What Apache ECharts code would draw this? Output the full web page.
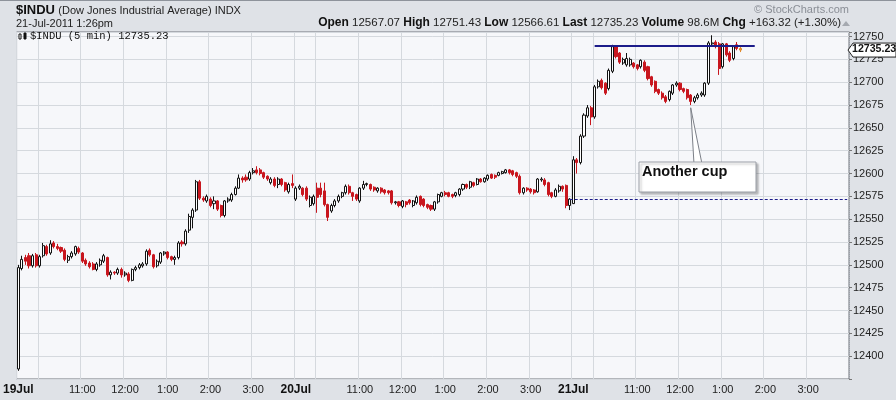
<!DOCTYPE html>
<html>
<head>
<meta charset="utf-8">
<script src="https://cdn.jsdelivr.net/npm/echarts@6/dist/echarts.min.js"></script>
<style>
  html, body { margin: 0; padding: 0; background: #dfe2e7; }
  #chart { width: 896px; height: 400px; }
</style>
</head>
<body>
<div id="chart"></div>
<script>
// sessions and axis labels
const days = ['19Jul', '20Jul', '21Jul']
const barsPerDay = 78 // 9:30 - 4:00 in 5 min bars
const gridBars = [0, 6, 18, 30, 42, 54, 66] // 9:30, 10:00, 11:00 ... 3:00
const hourBars = [18, 30, 42, 54, 66]
const hourLabels = ['11:00', '12:00', '1:00', '2:00', '3:00']
const yTicks = [12400, 12425, 12450, 12475, 12500, 12525, 12550, 12575, 12600, 12625, 12650, 12675, 12700, 12725, 12750]

// [open, close, low, high] per 5 min bar
const jul19 = [
  [12386, 12497, 12384, 12500], [12496, 12506, 12494, 12510], [12508, 12504, 12500, 12511], [12510, 12499, 12496, 12513],
  [12499, 12510, 12497, 12512], [12511, 12499, 12497, 12513], [12499, 12509, 12497, 12511], [12510, 12521, 12508, 12524],
  [12520, 12512, 12510, 12522], [12513, 12523, 12511, 12527], [12524, 12520, 12518, 12526], [12520, 12518, 12516, 12523],
  [12519, 12515, 12513, 12520], [12516, 12506, 12504, 12518], [12505, 12509, 12502, 12511], [12509, 12513, 12507, 12515],
  [12512, 12520, 12510, 12521], [12518, 12514, 12512, 12520], [12513, 12504, 12502, 12514], [12505, 12501, 12499, 12507],
  [12502, 12498, 12496, 12504], [12501, 12495, 12494, 12503], [12495, 12501, 12493, 12503], [12500, 12505, 12498, 12507],
  [12504, 12510, 12502, 12512], [12508, 12489, 12487, 12509], [12489, 12492, 12484, 12494], [12492, 12491, 12489, 12493],
  [12491, 12495, 12489, 12497], [12495, 12489, 12486, 12497], [12489, 12491, 12487, 12493], [12490, 12483, 12481, 12492],
  [12483, 12495, 12482, 12496], [12495, 12497, 12493, 12499], [12497, 12500, 12495, 12502], [12499, 12501, 12497, 12503],
  [12501, 12515, 12499, 12517], [12516, 12511, 12509, 12518], [12511, 12498, 12496, 12512], [12499, 12504, 12497, 12506],
  [12503, 12513, 12501, 12514], [12512, 12514, 12510, 12515], [12514, 12508, 12506, 12515], [12509, 12506, 12504, 12510],
  [12506, 12508, 12500, 12510], [12508, 12524, 12506, 12526], [12525, 12523, 12520, 12527], [12523, 12537, 12521, 12539],
  [12538, 12553, 12535, 12556], [12552, 12560, 12540, 12562], [12560, 12591, 12558, 12593], [12591, 12573, 12571, 12593],
  [12573, 12571, 12569, 12575], [12570, 12575, 12568, 12577], [12572, 12565, 12563, 12574], [12567, 12570, 12561, 12575],
  [12570, 12561, 12559, 12571], [12565, 12554, 12552, 12566], [12554, 12570, 12552, 12571], [12570, 12572, 12568, 12574],
  [12571, 12577, 12569, 12579], [12577, 12584, 12576, 12586], [12584, 12595, 12583, 12599], [12595, 12593, 12590, 12597],
  [12596, 12593, 12591, 12599], [12594, 12601, 12592, 12603], [12601, 12603, 12599, 12606], [12604, 12601, 12599, 12608],
  [12604, 12600, 12598, 12606], [12601, 12596, 12594, 12602], [12597, 12594, 12592, 12598], [12590, 12594, 12588, 12596],
  [12594, 12587, 12585, 12596], [12588, 12594, 12584, 12596], [12594, 12588, 12586, 12595], [12590, 12582, 12580, 12591],
  [12580, 12588, 12578, 12590], [12589, 12587, 12584, 12599]
]
const jul20 = [
  [12572, 12584, 12570, 12586], [12584, 12586, 12582, 12588], [12584, 12577, 12575, 12585], [12584, 12572, 12570, 12586],
  [12565, 12574, 12563, 12576], [12567, 12575, 12565, 12577], [12584, 12574, 12557, 12590], [12584, 12577, 12574, 12590],
  [12581, 12566, 12564, 12590], [12566, 12552, 12548, 12567], [12559, 12565, 12557, 12567], [12565, 12570, 12563, 12572],
  [12570, 12575, 12568, 12577], [12575, 12579, 12573, 12580], [12579, 12586, 12577, 12588], [12586, 12579, 12577, 12588],
  [12579, 12575, 12570, 12580], [12577, 12572, 12570, 12578], [12570, 12584, 12568, 12585], [12584, 12588, 12582, 12592],
  [12588, 12589, 12586, 12590], [12588, 12583, 12581, 12589], [12585, 12582, 12580, 12586], [12581, 12584, 12579, 12585],
  [12584, 12580, 12578, 12585], [12582, 12579, 12577, 12583], [12581, 12579, 12577, 12582], [12581, 12568, 12566, 12582],
  [12568, 12569, 12566, 12570], [12569, 12565, 12563, 12570], [12564, 12570, 12562, 12571], [12569, 12566, 12563, 12570],
  [12571, 12568, 12566, 12572], [12565, 12570, 12563, 12571], [12568, 12574, 12566, 12576], [12575, 12566, 12564, 12576],
  [12572, 12565, 12563, 12573], [12566, 12563, 12561, 12567], [12565, 12561, 12559, 12566], [12561, 12569, 12559, 12570],
  [12569, 12577, 12567, 12578], [12575, 12579, 12574, 12580], [12579, 12577, 12575, 12581], [12579, 12575, 12574, 12580],
  [12577, 12575, 12573, 12578], [12576, 12579, 12574, 12580], [12577, 12583, 12575, 12584], [12583, 12588, 12581, 12589],
  [12588, 12585, 12583, 12589], [12585, 12591, 12583, 12592], [12590, 12587, 12585, 12591], [12588, 12594, 12587, 12595],
  [12594, 12591, 12590, 12595], [12591, 12595, 12590, 12596], [12594, 12598, 12592, 12599], [12599, 12595, 12594, 12600],
  [12598, 12596, 12594, 12599], [12598, 12601, 12597, 12602], [12600, 12602, 12599, 12603], [12601, 12604, 12600, 12605],
  [12604, 12601, 12599, 12605], [12603, 12599, 12597, 12604], [12601, 12597, 12595, 12602], [12597, 12579, 12577, 12599],
  [12579, 12584, 12577, 12585], [12584, 12582, 12580, 12585], [12583, 12580, 12578, 12584], [12582, 12579, 12577, 12583],
  [12580, 12594, 12579, 12595], [12593, 12594, 12591, 12596], [12593, 12588, 12586, 12595], [12590, 12577, 12575, 12591],
  [12579, 12575, 12573, 12580], [12575, 12582, 12574, 12584], [12581, 12586, 12579, 12588], [12586, 12583, 12580, 12587],
  [12587, 12565, 12562, 12588], [12565, 12572, 12560, 12573]
]
const jul21 = [
  [12567.07, 12615, 12566.61, 12619], [12615, 12612, 12600, 12617], [12612, 12641, 12610, 12643], [12641, 12664, 12639, 12666],
  [12663, 12672, 12661, 12675], [12672, 12662, 12653, 12674], [12662, 12695, 12660, 12697], [12695, 12701, 12693, 12703],
  [12702, 12694, 12692, 12704], [12699, 12688, 12686, 12700], [12693, 12713, 12691, 12715], [12712, 12739, 12710, 12741],
  [12739, 12728, 12726, 12740], [12732, 12722, 12720, 12733], [12721, 12725, 12719, 12727], [12719, 12726, 12717, 12732],
  [12719, 12725, 12717, 12727], [12721, 12717, 12715, 12722], [12719, 12715, 12713, 12720], [12717, 12724, 12715, 12725],
  [12722, 12713, 12711, 12724], [12717, 12704, 12702, 12718], [12706, 12697, 12695, 12707], [12701, 12690, 12688, 12702],
  [12692, 12688, 12686, 12693], [12688, 12683, 12681, 12690], [12684, 12679, 12677, 12686], [12681, 12690, 12679, 12691],
  [12688, 12697, 12686, 12698], [12697, 12699, 12695, 12701], [12699, 12692, 12690, 12700], [12693, 12690, 12688, 12694],
  [12692, 12683, 12681, 12693], [12686, 12679, 12675, 12687], [12679, 12683, 12677, 12685], [12683, 12686, 12681, 12688],
  [12686, 12688, 12684, 12690], [12686, 12699, 12684, 12700], [12699, 12743, 12697, 12745], [12742, 12743, 12740, 12751.43],
  [12744, 12739, 12737, 12746], [12742, 12715, 12708, 12744], [12717, 12742, 12715, 12743], [12742, 12730, 12728, 12743],
  [12732, 12724, 12722, 12734], [12726, 12739, 12724, 12740], [12741, 12737, 12735, 12744], [12737, 12735.23, 12733, 12739]
]

const prevClose = 12571.91
const resistance = 12740
const lastPrice = 12735.23
const cupBottom = [189, 12672] // bar index, value the note points to

// time grid
const categories = []
days.forEach(d => {
  for (let k = 0; k < barsPerDay; k++) {
    const m = 570 + k * 5
    categories.push(d + ' ' + Math.floor(m / 60) + ':' + String(m % 60).padStart(2, '0'))
  }
})

const candles = jul19.concat(jul20, jul21).map((row, i, all) => {
  if (i === all.length - 1) {
    return { value: row, itemStyle: { color0: '#f2a640', borderColor0: '#e0892a' } }
  }
  return row
})

const chart = echarts.init(document.getElementById('chart'))

const option = {
  animation: false,
  backgroundColor: '#dfe2e7',
  textStyle: { fontFamily: 'Liberation Sans, Arial, sans-serif' },
  grid: {
    left: 16,
    right: 47,
    top: 32,
    bottom: 21,
    show: true,
    backgroundColor: '#f6f7fa',
    borderColor: '#70747c',
    borderWidth: 1
  },
  xAxis: {
    type: 'category',
    data: categories,
    boundaryGap: true,
    axisLine: { show: false },
    axisTick: { show: false },
    splitLine: {
      show: true,
      interval: (i) => gridBars.indexOf(i % barsPerDay) >= 0,
      lineStyle: { color: '#d5d9de', width: 1 }
    },
    axisLabel: {
      interval: (i) => i % barsPerDay === 0 || hourBars.indexOf(i % barsPerDay) >= 0,
      formatter: (value, i) => {
        const k = i % barsPerDay
        if (k === 0) return '{d|' + days[Math.floor(i / barsPerDay)] + '}'
        return hourLabels[hourBars.indexOf(k)] || ''
      },
      color: '#222',
      fontSize: 11,
      margin: 5,
      rich: { d: { fontWeight: 'bold', fontSize: 12, color: '#111' } }
    }
  },
  yAxis: {
    type: 'value',
    position: 'right',
    min: 12375,
    max: 12755,
    interval: 25,
    axisLine: { show: true, lineStyle: { color: '#9a9ea6', type: 'dotted' } },
    axisTick: { show: true, length: 3, lineStyle: { color: '#777' } },
    splitLine: { show: true, lineStyle: { color: '#d5d9de', width: 1 } },
    axisLabel: {
      color: '#222',
      fontSize: 11,
      margin: 4,
      formatter: (v) => (yTicks.indexOf(v) >= 0 ? String(v) : '')
    }
  },
  series: [
    {
      type: 'candlestick',
      data: candles,
      barWidth: '72%',
      itemStyle: {
        color: '#ffffff',
        color0: '#c8161e',
        borderColor: '#111111',
        borderColor0: '#c8161e',
        borderWidth: 1
      },
      markLine: {
        silent: true,
        symbol: ['none', 'none'],
        label: { show: false },
        data: [
          [
            { coord: [162, resistance], lineStyle: { color: '#1c1c8a', width: 2, type: 'solid' } },
            { coord: [207, resistance] }
          ],
          [
            { coord: [155, prevClose], lineStyle: { color: '#1c1c8a', width: 1, type: [3, 2] } },
            { coord: [233, prevClose] }
          ]
        ]
      }
    }
  ]
}

chart.setOption(option)

// annotations placed from the chart's own scales
const tip = chart.convertToPixel({ gridIndex: 0 }, cupBottom)
const lastY = chart.convertToPixel({ gridIndex: 0 }, [0, lastPrice])[1]

chart.setOption({
  graphic: [
    // header
    { type: 'rect', shape: { x: 0, y: 0, width: 896, height: 1 }, style: { fill: '#8e939b' }, silent: true },
    {
      type: 'text', left: 16, top: 4,
      style: {
        text: '{t|$INDU} {s|(Dow Jones Industrial Average) INDX}',
        rich: {
          t: { fontWeight: 'bold', fontSize: 13, fill: '#111', fontFamily: 'Liberation Sans, Arial' },
          s: { fontSize: 11, fill: '#222', fontFamily: 'Liberation Sans, Arial' }
        }
      }
    },
    {
      type: 'text', left: 16, top: 18,
      style: { text: '21-Jul-2011 1:26pm', fontSize: 11, fill: '#222', fontFamily: 'Liberation Sans, Arial' }
    },
    {
      type: 'text', right: 47, top: 4,
      style: { text: '\u00a9 StockCharts.com', fontSize: 11, fill: '#8a8e96', fontFamily: 'Liberation Sans, Arial' }
    },
    {
      type: 'text', right: 55, top: 17,
      style: {
        text: '{b|Open} 12567.07 {b|High} 12751.43 {b|Low} 12566.61 {b|Last} 12735.23 {b|Volume} 98.6M {b|Chg} +163.32 (+1.30%)',
        fontSize: 11.5,
        fill: '#222',
        fontFamily: 'Liberation Sans, Arial',
        rich: { b: { fontWeight: 'bold', fontSize: 12, fill: '#111' } }
      }
    },
    { type: 'polygon', shape: { points: [[842, 26], [850, 26], [846, 21]] }, style: { fill: '#a5a9b0' } },
    // legend inside plot
    { type: 'rect', shape: { x: 19, y: 34, width: 2, height: 5 }, style: { fill: '#fff', stroke: '#111', lineWidth: 1 } },
    { type: 'rect', shape: { x: 24, y: 33, width: 2, height: 6 }, style: { fill: '#111', stroke: '#111', lineWidth: 1 } },
    {
      type: 'text', left: 30, top: 31,
      style: { text: '$INDU (5 min) 12735.23', fontSize: 10.5, fill: '#111', fontFamily: 'Liberation Mono, DejaVu Sans Mono, monospace' }
    },
    // note pointer and box
    {
      type: 'polygon',
      shape: { points: [[tip[0], tip[1]], [694, 164], [702, 164]] },
      style: { fill: '#ffffff', stroke: '#7c8088', lineWidth: 1 },
      z: 10
    },
    {
      type: 'rect',
      shape: { x: 639, y: 162, width: 117, height: 30 },
      style: { fill: '#ffffff', stroke: '#9a9ea6', lineWidth: 1, shadowBlur: 2, shadowOffsetX: 2, shadowOffsetY: 2, shadowColor: 'rgba(0,0,0,0.25)' },
      z: 11
    },
    {
      type: 'text', left: 642, top: 164, z: 12,
      style: { text: 'Another cup', fontSize: 14.5, fontWeight: 'bold', fill: '#111', fontFamily: 'Liberation Sans, Arial' }
    },
    // last price tag on the axis
    {
      type: 'polygon', z: 12,
      shape: { points: [[848, lastY], [853, lastY - 7], [896, lastY - 7], [896, lastY + 7], [853, lastY + 7]] },
      style: { fill: '#ffffff', stroke: '#222', lineWidth: 1 }
    },
    {
      type: 'text', left: 852, top: lastY - 6, z: 13,
      style: { text: lastPrice.toFixed(2), fontSize: 10.6, fontWeight: 'bold', fill: '#111', fontFamily: 'Liberation Sans, Arial' }
    }
  ]
})
</script>
</body>
</html>
